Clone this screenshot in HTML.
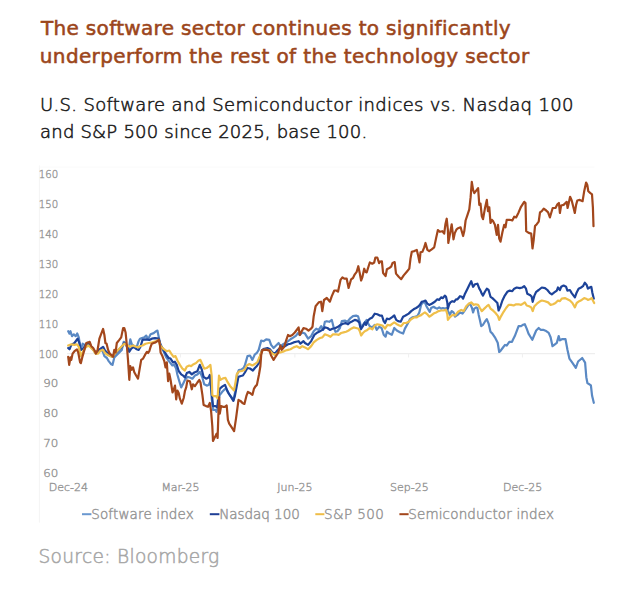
<!DOCTYPE html>
<html><head><meta charset="utf-8">
<style>
html,body{margin:0;padding:0;background:#fff;}
body{width:642px;height:602px;position:relative;overflow:hidden;font-family:"DejaVu Sans","Liberation Sans",sans-serif;}
.t{position:absolute;white-space:nowrap;left:40px;}
#title1,#title2{font-size:20px;color:#9c461b;-webkit-text-stroke:0.55px #9c461b;letter-spacing:0.325px;}
#sub1,#sub2{font-size:18px;font-weight:200;color:#1e1e1e;-webkit-text-stroke:0.55px #1e1e1e;letter-spacing:0.33px;}
#sub2{letter-spacing:0.22px;}
#source{font-size:18.6px;font-weight:200;color:#a6a6a6;-webkit-text-stroke:0.5px #a6a6a6;letter-spacing:0.3px;}
svg{position:absolute;left:0;top:0;}
</style></head><body>
<div class="t" id="title1" style="top:15.8px;left:41px">The software sector continues to significantly</div>
<div class="t" id="title2" style="top:44.3px;left:39.8px;letter-spacing:0.365px">underperform the rest of the technology sector</div>
<div class="t" id="sub1" style="top:94.2px">U.S. Software and Semiconductor indices vs. Nasdaq 100</div>
<div class="t" id="sub2" style="top:121px">and S&amp;P 500 since 2025, base 100.</div>
<div class="t" id="source" style="top:546.1px;left:38.5px">Source: Bloomberg</div>
<svg width="642" height="602" viewBox="0 0 642 602">
<line x1="39.4" y1="165.5" x2="39.4" y2="522.6" stroke="#f4f4f4" stroke-width="1"/>
<line x1="39.4" y1="167" x2="594.5" y2="167" stroke="#fafafa" stroke-width="1"/>
<line x1="67" y1="353.7" x2="595" y2="353.7" stroke="#eeeeee" stroke-width="1.3"/>
<g stroke="#efefef" stroke-width="1"><line x1="180.4" y1="353" x2="180.4" y2="357.5"/><line x1="294.9" y1="353" x2="294.9" y2="357.5"/><line x1="408.6" y1="353" x2="408.6" y2="357.5"/><line x1="522.4" y1="353" x2="522.4" y2="357.5"/></g>
<g font-family="'DejaVu Sans', sans-serif" font-size="11" font-weight="200" fill="#979797" stroke="#979797" stroke-width="0.4" text-anchor="end">
<text x="58.2" y="178.3" textLength="19.4" lengthAdjust="spacingAndGlyphs">160</text>
<text x="58.2" y="208.2" textLength="19.4" lengthAdjust="spacingAndGlyphs">150</text>
<text x="58.2" y="238.0" textLength="19.4" lengthAdjust="spacingAndGlyphs">140</text>
<text x="58.2" y="267.9" textLength="19.4" lengthAdjust="spacingAndGlyphs">130</text>
<text x="58.2" y="297.8" textLength="19.4" lengthAdjust="spacingAndGlyphs">120</text>
<text x="58.2" y="327.6" textLength="19.4" lengthAdjust="spacingAndGlyphs">110</text>
<text x="58.2" y="357.5" textLength="19.4" lengthAdjust="spacingAndGlyphs">100</text>
<text x="58.2" y="387.3" textLength="15.0" lengthAdjust="spacingAndGlyphs">90</text>
<text x="58.2" y="417.2" textLength="15.0" lengthAdjust="spacingAndGlyphs">80</text>
<text x="58.2" y="447.1" textLength="15.0" lengthAdjust="spacingAndGlyphs">70</text>
<text x="58.2" y="476.9" textLength="15.0" lengthAdjust="spacingAndGlyphs">60</text>
</g>
<g font-family="'DejaVu Sans', sans-serif" font-size="11" font-weight="200" fill="#979797" stroke="#979797" stroke-width="0.4" text-anchor="middle">
<text x="68.4" y="490.8">Dec-24</text>
<text x="180.4" y="490.8">Mar-25</text>
<text x="294.9" y="490.8">Jun-25</text>
<text x="409.4" y="490.8">Sep-25</text>
<text x="522.6" y="490.8">Dec-25</text>
</g>
<g id="lines" fill="none" stroke-width="2.2" stroke-linejoin="round" stroke-linecap="round">
<polyline stroke="#5a89c4" points="68.2,331.2 69.5,333.7 70.5,331.2 72.0,336.2 73.8,334.3 75.7,336.2 77.2,333.5 78.8,337.4 80.7,349.9 82.6,343.7 84.4,344.9 86.3,344.3 88.8,344.3 91.3,346.8 93.8,350.5 96.3,353.6 98.8,351.8 101.3,349.3 103.1,352.4 104.4,356.1 106.9,358.0 108.7,361.1 111.2,364.2 112.5,364.9 114.3,357.4 116.8,354.9 119.3,352.4 121.8,349.9 123.7,341.8 124.9,342.4 126.8,346.2 128.7,349.3 130.3,339.3 131.8,344.3 134.3,346.2 136.8,346.8 138.6,341.2 140.0,338.7 141.9,338.1 144.4,337.4 146.2,335.6 148.1,339.3 150.6,334.3 153.7,333.1 156.2,331.2 157.4,330.6 158.7,336.8 160.6,346.2 162.4,348.7 164.3,353.0 166.2,357.4 168.0,359.9 169.9,362.4 172.4,365.5 174.3,364.9 176.1,368.6 177.4,374.8 179.3,381.2 181.2,387.4 183.1,383.7 184.9,380.0 187.4,376.9 189.9,377.5 192.4,378.7 194.9,375.6 197.4,374.4 199.9,371.9 202.4,377.5 204.2,384.3 206.7,385.6 208.6,385.0 210.5,381.2 211.7,398.7 213.0,409.9 215.5,409.9 216.5,411.8 217.3,409.0 218.6,400.0 219.7,395.0 222.5,391.5 225.0,389.0 226.5,389.5 228.0,392.5 230.0,395.5 233.4,399.9 234.9,392.9 236.9,375.0 238.9,370.0 241.4,369.5 243.9,367.5 245.0,364.9 247.5,356.1 250.0,355.5 252.4,359.9 254.9,354.3 256.8,353.0 258.7,349.9 261.2,340.6 263.7,341.2 266.2,339.3 269.3,339.9 271.1,344.9 273.6,348.0 276.1,345.5 278.6,343.0 280.5,346.2 283.0,344.3 285.5,343.0 288.0,341.2 290.5,339.3 293.6,337.4 296.1,335.6 297.9,333.1 299.8,335.0 302.3,332.5 305.0,333.6 308.1,338.6 311.2,336.1 313.7,331.2 316.2,328.7 318.7,329.9 321.2,326.2 323.1,329.9 324.9,321.8 326.8,321.2 329.3,321.8 331.8,319.9 333.7,327.4 335.5,331.8 337.4,331.2 339.9,328.0 341.8,321.2 344.9,320.6 347.4,321.8 349.9,318.7 353.0,316.2 356.1,315.6 358.0,316.2 359.8,321.8 361.1,327.4 362.9,324.9 364.8,322.4 366.7,319.9 367.9,323.1 369.8,326.2 372.3,327.4 374.8,324.9 376.7,329.9 379.1,326.8 381.6,328.0 383.7,334.8 385.6,336.7 386.9,331.7 389.3,333.6 391.8,334.8 394.3,328.0 396.8,330.5 399.9,332.3 403.1,333.6 404.9,328.6 407.4,324.2 409.9,319.2 412.4,317.4 414.9,316.7 417.4,316.1 419.3,312.4 421.1,304.9 423.0,302.4 424.9,302.4 426.7,306.8 428.6,309.9 429.8,311.8 431.1,308.0 433.6,306.8 435.5,308.0 437.3,308.6 439.2,307.4 441.1,308.6 442.9,308.0 444.8,308.6 446.7,308.0 448.0,311.0 449.8,314.9 451.7,311.1 453.5,312.4 455.0,316.7 457.5,314.9 460.0,312.4 462.5,313.6 464.3,311.1 466.8,307.4 469.3,303.7 470.6,304.9 471.8,307.4 473.1,312.4 474.3,308.6 476.2,307.4 477.4,308.0 478.7,314.9 479.9,319.9 481.2,326.1 483.0,324.8 484.9,321.7 486.8,319.2 488.6,323.6 490.5,331.7 492.4,333.6 494.9,337.3 497.7,342.8 499.2,352.0 500.3,351.2 503.0,347.5 505.0,344.9 506.7,345.6 509.3,341.9 512.0,341.9 512.9,339.8 514.8,336.1 516.7,331.1 518.6,326.1 521.0,326.1 522.9,324.8 524.8,324.2 526.7,328.6 528.5,333.6 530.4,336.7 532.3,339.8 534.4,334.8 536.2,330.5 538.7,328.0 540.6,329.8 543.1,329.8 546.2,331.1 548.7,332.9 550.6,337.3 552.5,346.2 554.3,344.8 556.8,342.9 558.7,336.1 559.9,340.4 562.4,339.0 565.5,339.2 567.5,350.0 569.4,358.6 572.3,362.7 575.8,367.9 578.1,361.5 582.2,358.0 585.1,362.7 586.3,377.2 587.4,383.0 590.9,385.3 592.1,395.8 593.8,402.8"/>
<polyline stroke="#1d4399" points="68.2,348.0 69.5,349.3 71.3,344.9 74.5,343.0 77.6,338.7 79.4,343.0 80.7,349.9 83.2,348.7 85.7,344.9 88.2,343.0 90.7,346.2 93.2,349.3 95.6,353.0 98.1,350.5 100.6,348.7 103.1,346.8 105.0,350.5 107.5,353.0 110.0,355.5 112.5,356.8 114.3,354.3 116.8,351.8 119.3,349.3 121.8,346.8 124.3,343.0 126.2,344.9 128.0,348.7 129.3,351.8 131.2,348.7 133.7,346.8 136.8,349.3 138.6,349.9 140.5,346.8 142.5,339.9 146.2,339.3 149.3,339.9 151.8,338.7 155.0,338.1 158.7,338.7 160.6,344.9 163.1,349.3 164.9,352.4 166.8,355.5 168.7,358.0 170.5,358.6 173.0,362.4 174.9,361.7 176.8,364.9 178.7,371.0 181.2,374.4 183.1,375.6 184.9,377.5 186.8,373.1 189.3,371.9 191.8,374.4 194.3,372.5 197.4,371.2 199.8,364.9 201.7,369.2 203.6,376.9 206.1,378.7 208.6,377.5 209.8,375.0 211.1,386.2 212.3,398.7 213.0,406.1 215.5,406.1 217.3,407.4 218.6,393.7 219.8,388.6 222.5,386.4 225.0,384.9 227.0,389.9 229.0,393.9 231.0,396.9 233.4,400.9 234.9,395.9 236.4,387.9 238.4,376.9 240.9,376.0 242.9,375.5 244.9,372.5 247.4,368.0 249.9,368.5 252.9,370.5 254.9,368.0 256.9,366.0 258.9,363.0 259.9,357.4 261.8,350.5 264.3,348.7 267.4,348.0 269.9,349.3 272.4,352.4 274.9,353.6 277.4,350.5 279.9,348.0 282.4,346.8 284.8,346.2 288.0,344.3 290.5,343.7 293.6,342.4 296.1,341.8 298.6,341.2 300.4,343.7 303.5,341.2 305.0,343.0 308.1,344.9 311.2,341.1 314.3,334.9 317.5,332.4 320.0,331.2 322.4,329.9 324.9,327.4 327.4,328.0 329.9,329.9 332.4,328.7 335.5,328.0 338.0,326.8 340.5,324.9 343.0,323.7 345.5,323.1 348.0,324.3 349.9,322.4 352.4,321.2 354.8,319.9 357.3,320.6 359.2,322.4 360.8,329.3 362.9,326.2 364.8,322.4 366.1,324.9 367.9,320.6 369.8,318.7 372.3,317.4 374.8,313.7 377.3,314.3 379.8,315.6 381.9,315.5 383.7,321.1 385.0,323.0 386.9,318.6 389.3,319.2 391.8,317.4 394.3,315.5 396.2,319.9 398.1,321.1 400.6,321.7 403.1,316.7 405.5,315.5 408.7,313.6 411.2,311.1 413.6,309.3 416.1,308.0 418.0,306.8 419.9,304.9 421.7,301.8 423.6,301.2 425.5,300.5 427.4,303.7 429.2,304.9 431.7,303.7 434.8,301.8 437.3,299.3 439.2,299.9 441.1,297.4 442.9,298.1 444.8,295.6 446.0,296.8 447.3,302.4 447.9,308.6 449.2,304.3 450.4,302.4 452.3,301.2 454.1,301.8 456.0,299.3 457.5,299.3 460.0,296.2 461.9,296.8 463.1,298.7 465.0,293.7 467.5,288.7 469.3,285.0 471.2,281.2 473.1,286.8 474.9,284.3 477.4,283.7 479.3,288.7 480.5,290.6 481.8,293.7 483.0,295.6 484.9,291.8 486.8,288.7 488.6,290.0 490.5,296.8 492.4,298.1 494.9,300.5 497.4,303.0 498.6,310.5 500.5,306.2 502.4,300.5 504.8,295.6 507.3,291.8 509.8,290.6 512.3,291.2 514.2,288.7 516.7,287.5 519.8,288.1 522.3,287.5 524.2,286.2 526.0,288.7 527.3,293.7 529.8,294.9 531.6,296.5 532.7,301.8 534.4,295.6 536.2,291.8 538.7,290.0 541.8,287.5 545.0,288.1 547.4,290.0 549.9,293.1 551.8,294.3 554.3,292.4 556.8,290.6 558.0,287.5 559.9,290.0 561.2,286.8 563.6,285.6 566.1,286.8 567.4,290.6 569.9,290.0 571.7,293.1 573.6,295.6 574.9,297.4 576.7,292.4 578.6,288.7 581.1,287.5 583.0,286.2 584.8,282.7 586.7,285.0 587.9,288.7 589.6,287.5 591.3,286.8 592.3,292.4 593.8,298.7"/>
<polyline stroke="#efbf4a" points="68.2,345.5 71.3,344.3 74.5,344.9 77.0,344.3 78.8,346.8 80.7,356.1 83.2,351.2 85.7,347.4 88.2,345.5 90.7,347.4 93.2,349.9 95.6,353.6 98.1,353.6 100.6,350.5 103.1,349.9 105.0,353.0 107.5,354.9 110.0,356.1 112.5,356.8 114.3,354.3 116.8,351.2 119.3,348.7 121.8,346.2 124.3,343.7 126.8,344.9 129.9,346.8 133.0,345.5 136.1,346.8 138.6,347.4 140.0,346.2 142.5,345.5 145.6,343.7 148.7,343.0 152.5,342.4 155.6,341.2 158.7,339.9 159.9,344.9 162.4,348.0 164.9,349.9 166.8,351.2 169.3,350.5 171.2,353.6 173.6,356.8 175.5,356.1 177.4,360.5 179.9,364.9 182.4,368.6 184.9,370.5 186.7,366.7 189.2,365.5 191.1,366.1 193.6,364.2 196.1,363.0 198.6,360.5 200.4,359.9 202.3,364.2 204.2,368.6 206.7,368.0 208.5,366.7 210.4,364.9 211.7,376.1 212.3,394.9 213.6,396.2 216.1,396.2 217.6,398.3 219.0,375.5 220.5,379.9 223.0,378.4 225.5,377.9 227.5,381.9 230.0,385.9 234.0,390.4 235.4,382.9 236.9,374.0 238.9,371.5 241.9,371.0 244.4,370.0 246.9,365.5 249.4,364.0 252.4,365.5 254.9,364.0 257.4,362.0 259.9,356.1 261.8,351.2 263.7,349.9 266.8,349.9 269.9,350.5 272.4,353.6 274.9,354.9 278.0,353.0 280.5,352.4 283.0,351.8 285.5,350.5 288.0,349.9 290.5,349.3 293.6,347.4 296.7,346.2 299.8,348.0 302.3,346.2 305.0,347.4 308.1,349.2 311.2,346.1 313.7,342.4 316.8,339.9 320.0,338.0 322.4,337.4 324.9,334.3 328.1,335.5 330.5,336.8 333.0,334.3 336.2,334.3 338.6,334.9 341.1,333.0 343.6,332.4 346.1,331.8 348.6,330.5 351.1,328.7 353.6,327.4 356.1,328.0 358.6,328.7 359.8,331.2 361.1,335.5 362.9,333.0 364.8,331.2 367.3,329.9 369.8,328.0 372.3,329.3 374.8,325.5 377.3,324.3 379.8,324.9 382.5,325.5 385.0,328.6 387.5,324.8 390.0,325.5 392.5,323.6 394.3,322.4 396.8,324.2 399.3,325.5 401.2,326.1 403.7,323.0 406.2,323.0 408.7,321.7 411.2,319.2 414.3,317.4 416.8,317.4 418.6,316.1 420.5,315.5 423.0,313.6 424.9,312.4 427.4,314.3 429.2,316.7 431.1,315.5 433.6,313.6 436.1,312.4 438.6,311.1 441.1,310.5 443.6,310.5 446.0,309.9 447.3,314.3 447.9,319.9 449.8,317.4 451.7,315.5 453.5,314.9 455.0,315.5 458.1,311.8 461.2,309.9 463.7,311.1 466.2,306.2 468.7,303.7 471.2,302.4 473.7,304.9 475.6,304.3 478.1,304.9 479.9,308.0 481.8,311.1 484.3,308.6 486.8,306.2 488.6,304.9 490.5,308.6 493.0,310.5 495.5,313.0 498.0,316.1 499.2,319.9 501.1,316.1 503.6,311.8 506.1,308.0 508.6,304.9 511.1,304.9 513.6,305.5 516.1,304.3 518.6,304.3 521.0,304.9 522.9,303.7 524.8,302.4 526.7,305.5 529.1,306.2 531.2,307.4 532.7,311.1 534.4,306.2 536.9,303.7 539.3,301.8 541.8,300.5 545.0,301.2 548.1,302.4 550.6,304.9 553.1,304.3 555.5,303.0 558.0,300.5 559.9,301.2 561.8,298.7 564.9,298.1 567.4,299.3 569.9,300.5 572.4,303.0 574.9,307.4 576.7,303.0 579.2,301.2 581.7,299.9 584.2,298.1 586.1,298.7 587.9,299.9 589.8,299.3 591.7,298.1 592.9,300.5 594.2,303.0"/>
<polyline stroke="#a3471c" points="68.2,356.8 69.2,364.9 70.5,357.4 71.3,359.9 72.6,353.6 74.5,351.2 77.0,349.3 78.2,352.4 80.1,362.4 80.9,363.0 82.6,356.1 84.4,349.9 86.3,343.0 88.2,342.4 89.7,341.8 91.3,346.2 93.2,348.0 94.6,350.5 95.9,353.6 97.5,350.5 99.4,338.7 101.3,333.7 103.1,329.0 104.4,335.0 105.4,343.0 106.6,343.7 108.1,349.9 109.4,353.0 111.2,354.9 113.1,356.8 114.3,349.9 115.6,352.4 116.8,343.0 119.3,339.9 121.2,337.4 123.1,328.1 124.3,328.1 125.6,332.5 126.8,344.9 128.0,359.9 129.3,379.8 130.3,366.1 131.5,369.8 133.0,367.4 134.3,372.3 136.1,375.5 138.0,378.6 139.9,367.4 141.2,359.9 143.1,358.6 145.0,354.9 146.9,351.8 148.1,353.0 149.3,351.2 150.6,346.8 151.8,343.7 153.7,343.0 155.6,342.4 157.4,341.2 158.9,339.7 159.9,344.9 160.6,352.4 162.4,356.1 164.3,361.1 165.5,367.4 166.8,362.4 168.1,381.2 169.3,373.7 170.6,380.0 172.5,392.4 173.7,389.9 175.0,385.6 176.2,399.3 177.4,390.6 178.7,393.1 179.9,398.7 181.8,403.6 183.7,398.0 184.9,391.2 186.2,387.4 187.4,380.6 189.9,381.2 191.8,389.3 193.0,384.3 194.9,386.2 197.4,382.5 199.3,380.0 200.5,382.5 202.4,394.9 203.6,404.9 206.1,406.1 208.0,406.8 209.8,403.0 211.1,411.1 212.3,426.1 213.0,441.0 214.2,438.5 215.5,436.0 216.7,433.6 217.6,437.9 218.6,408.6 219.2,397.4 219.8,413.6 221.1,406.1 222.9,406.8 224.8,406.8 226.7,405.5 227.9,419.8 229.2,423.6 231.7,427.3 234.1,431.1 236.0,418.6 238.5,399.9 240.4,400.9 242.4,402.9 244.4,403.9 246.4,395.9 247.9,391.9 249.9,392.9 252.4,394.9 253.9,388.9 255.4,386.4 256.9,384.9 258.9,375.0 260.4,366.0 261.2,354.9 262.4,349.9 264.3,349.9 266.8,349.9 269.3,350.5 271.1,355.5 273.6,359.9 275.5,356.8 278.0,353.0 280.5,345.5 281.7,349.9 284.2,346.8 286.1,340.6 288.0,335.0 289.8,336.2 292.3,335.0 294.8,332.5 296.7,330.0 298.6,327.5 299.8,335.0 301.7,331.2 303.5,328.1 306.0,328.7 308.5,330.6 311.0,328.7 312.5,326.8 313.7,316.2 315.6,306.2 318.7,302.4 321.0,301.7 322.3,311.1 324.0,300.0 326.8,298.0 329.9,301.7 331.8,296.1 334.3,290.5 336.2,290.5 338.0,291.7 340.5,279.9 342.4,277.4 344.3,278.7 346.7,278.7 348.6,288.0 351.1,279.3 353.0,278.0 354.8,274.3 356.7,271.8 358.3,266.2 359.6,272.4 361.1,280.5 362.3,277.4 364.2,268.7 365.4,271.8 366.7,272.4 368.6,266.2 369.8,262.5 372.3,263.7 374.2,262.5 375.4,257.5 377.3,257.5 379.1,263.1 380.0,261.7 381.9,261.4 383.1,273.0 385.6,276.1 386.9,269.2 389.3,268.0 391.2,266.7 392.5,263.0 394.7,262.1 396.0,273.6 398.7,276.7 401.2,279.2 403.7,275.4 406.8,271.7 409.3,268.6 410.5,258.6 411.8,251.8 414.3,251.1 416.8,249.9 418.0,254.9 419.5,262.4 420.5,252.4 422.4,251.8 424.2,247.4 425.5,243.0 427.4,249.9 429.2,251.1 431.7,249.3 434.2,247.4 436.1,238.1 437.9,230.0 439.8,231.8 442.3,231.2 444.2,233.7 445.4,224.3 446.7,218.7 447.9,230.0 448.3,243.0 449.8,234.9 451.7,224.3 453.5,239.3 454.8,233.1 456.6,229.3 457.5,228.6 460.6,227.3 463.1,236.0 464.3,231.1 465.6,220.5 467.5,214.9 469.3,209.3 470.6,197.4 471.8,181.8 473.1,189.9 474.3,193.1 476.2,190.6 478.1,188.1 479.3,204.9 480.5,203.6 481.8,216.1 483.0,219.2 484.9,208.6 486.8,199.9 488.0,211.1 489.3,207.4 490.5,223.0 491.8,219.8 493.0,221.1 494.9,224.8 496.7,234.8 498.0,224.8 499.2,238.5 500.5,241.7 502.4,232.3 504.2,224.8 505.5,227.3 506.7,219.8 509.8,219.8 512.3,220.5 514.2,216.7 516.1,217.4 518.6,212.4 521.0,206.8 524.2,201.8 525.5,203.0 526.2,231.1 528.7,232.9 531.2,233.6 532.5,248.5 533.7,239.8 535.0,226.1 536.8,224.2 538.7,221.7 540.0,212.4 541.8,211.1 543.7,208.6 546.2,210.5 548.1,212.4 549.9,217.4 551.2,213.0 552.7,208.0 555.5,208.0 557.4,204.3 558.9,203.0 559.9,213.0 561.1,205.5 563.6,204.9 565.5,203.0 566.7,201.8 567.6,208.0 568.6,203.7 570.1,196.8 571.7,200.5 573.6,208.0 574.8,213.0 576.1,204.9 577.3,200.5 579.8,199.9 582.6,201.2 584.2,191.2 586.1,182.5 587.3,185.0 588.3,191.2 590.4,193.1 592.0,194.3 592.9,207.4 593.5,226.1"/>
</g>
<g font-family="'DejaVu Sans', sans-serif" font-size="13.5" font-weight="200" fill="#979797" stroke="#979797" stroke-width="0.45">
<line x1="82" y1="514.2" x2="91.4" y2="514.2" stroke="#6a98d0" stroke-width="2"/>
<text x="91.2" y="518.5" textLength="102.6" lengthAdjust="spacing">Software index</text>
<line x1="209.8" y1="514.2" x2="219.4" y2="514.2" stroke="#1f3f96" stroke-width="2"/>
<text x="219.2" y="518.5" textLength="80.6" lengthAdjust="spacing">Nasdaq 100</text>
<line x1="315.3" y1="514.2" x2="324.4" y2="514.2" stroke="#efbd47" stroke-width="2"/>
<text x="324.0" y="518.5" textLength="59.8" lengthAdjust="spacing">S&amp;P 500</text>
<line x1="399.4" y1="514.2" x2="408.6" y2="514.2" stroke="#a3461b" stroke-width="2"/>
<text x="408.2" y="518.5" textLength="145.8" lengthAdjust="spacing">Semiconductor index</text>
</g>
</svg>
</body></html>
